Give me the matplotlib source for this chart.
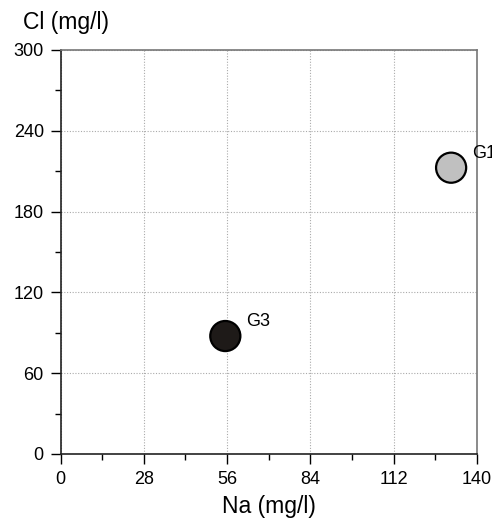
import numpy as np
import matplotlib.pyplot as plt
from matplotlib.ticker import MultipleLocator

plt.rcParams['font.family'] = ['Liberation Sans', 'DejaVu Sans']

groups = ["G1", "G3"]
na = [131.3, 55.4]
cl = [212.6, 87.6]
colors = ["#c0c0c0", "#1e1a18"]

x_ticks = [0, 28, 56, 84, 112, 140]
y_ticks = [0, 60, 120, 180, 240, 300]

fig = plt.figure(figsize=(4.92, 5.2), dpi=100)
ax = fig.add_axes([60.5 / 492, 1 - 454 / 520, 416.5 / 492, 404 / 520])

ax.set_xlim(0, 140)
ax.set_ylim(0, 300)
ax.set_xticks(x_ticks)
ax.set_yticks(y_ticks)
ax.xaxis.set_minor_locator(MultipleLocator(14))
ax.yaxis.set_minor_locator(MultipleLocator(30))
ax.tick_params(which='major', direction='out', length=7, width=1, labelsize=13, pad=5)
ax.tick_params(which='minor', direction='out', length=4, width=1)
ax.grid(True, which='major', linestyle=(0, (1, 1.5)), color='#aaaaaa', linewidth=0.8)
ax.set_axisbelow(True)

for side in ['left', 'bottom']:
    ax.spines[side].set_color('#222222')
    ax.spines[side].set_linewidth(1.2)
for side in ['top', 'right']:
    ax.spines[side].set_color('#777777')
    ax.spines[side].set_linewidth(1.2)

ax.scatter(na, cl, s=470, c=colors, edgecolors='black', linewidths=1.6, zorder=3, clip_on=False)
for g, x, y in zip(groups, na, cl):
    ax.annotate(g, (x, y), xytext=(15, 4), textcoords='offset points', fontsize=13, va='bottom', ha='left',
                annotation_clip=False)

fig.text(23 / 492, 1 - 22 / 520, "Cl (mg/l)", fontsize=16.5, va='center', ha='left')
ax.set_xlabel("Na (mg/l)", fontsize=16.5, labelpad=5)

fig.savefig("out.png", dpi=100)
